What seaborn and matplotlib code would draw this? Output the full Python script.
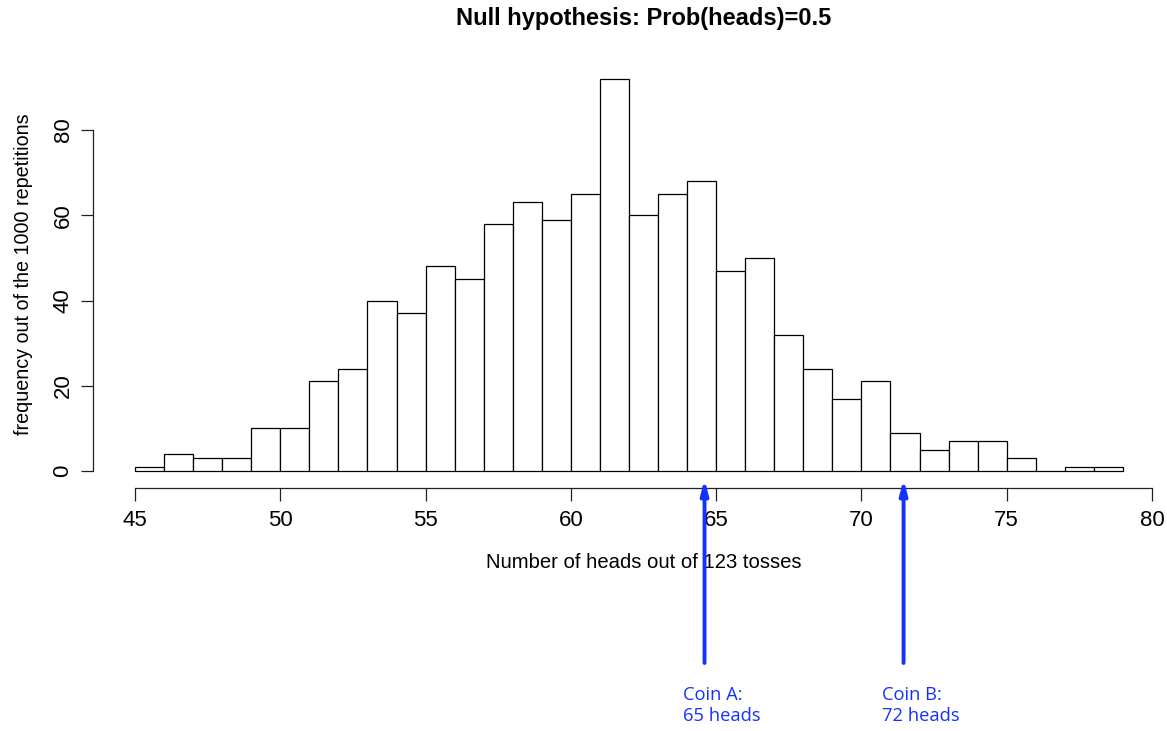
import matplotlib
matplotlib.use("Agg")
import matplotlib.pyplot as plt
import seaborn as sns
import numpy as np
import pandas as pd

# ---- data ----
heads = list(range(45, 79))  # left bin edges, width 1
counts = [1, 4, 3, 3, 10, 10, 21, 24, 40, 37, 48, 45, 58, 63, 59, 65, 92, 60,
          65, 68, 47, 50, 32, 24, 17, 21, 9, 5, 7, 7, 3, 0, 1, 1]
x_ticks = [45, 50, 55, 60, 65, 70, 75, 80]
y_ticks = [0, 20, 40, 60, 80]
coin_labels = ["Coin A:\n65 heads", "Coin B:\n72 heads"]
coin_positions = [64.6, 71.45]

title = "Null hypothesis: Prob(heads)=0.5"
xlabel = "Number of heads out of 123 tosses"
ylabel = "frequency out of the 1000 repetitions"

df = pd.DataFrame({"heads": [h + 0.5 for h in heads], "count": counts})
edges = heads + [heads[-1] + 1]

sns.set_theme(style="white")
plt.rcParams['font.family'] = ['Liberation Sans', 'DejaVu Sans']
plt.rcParams['text.color'] = 'black'
plt.rcParams['axes.labelcolor'] = 'black'
plt.rcParams['xtick.color'] = 'black'
plt.rcParams['ytick.color'] = 'black'

W, H = 1167, 731
fig = plt.figure(figsize=(W / 100, H / 100), dpi=100)
left_px, right_px, top_px, bottom_px = 93, 1160, 60, 488
ax = fig.add_axes([left_px / W, 1 - bottom_px / H,
                   (right_px - left_px) / W, (bottom_px - top_px) / H])

sns.histplot(data=df, x="heads", weights="count", bins=edges, ax=ax,
             color="white", edgecolor="black", linewidth=0.9, alpha=1)

xs = (1152 - 135) / 35.0
ys = (471 - 130) / 80.0
ax.set_xlim(45 - (135 - left_px) / xs, 80 + (right_px - 1152) / xs)
ax.set_ylim(-(bottom_px - 471) / ys, (471 - top_px) / ys)

for s in ["top", "right"]:
    ax.spines[s].set_visible(False)
ax.spines["left"].set_bounds(0, 80)
ax.spines["bottom"].set_bounds(45, 80)
for s in ["left", "bottom"]:
    ax.spines[s].set_color("#222222")
    ax.spines[s].set_linewidth(0.9)

ax.set_xticks(x_ticks)
ax.set_yticks(y_ticks)
ax.set_yticklabels([str(v) for v in y_ticks], rotation=90, va="center")
ax.tick_params(axis="both", which="major", direction="out", length=9,
               width=0.9, color="#222222", labelcolor="black", labelsize=16,
               pad=7, bottom=True, left=True)
ax.tick_params(axis="y", pad=5)

ax.set_xlabel(xlabel, fontsize=14.6, labelpad=18, color="black")
ax.set_ylabel(ylabel, fontsize=14.2, labelpad=14, color="black")
# center the x label on the plotting region (as in the reference)
ax.xaxis.set_label_coords((643.5 - left_px) / (right_px - left_px), -(563 - bottom_px) / (bottom_px - top_px))
ax.xaxis.label.set_va("center")
ax.grid(False)

fig.text((135 + 1152) / 2 / W, 1 - 19 / H, title, ha="center", va="center",
         fontsize=17, fontweight="bold", color="black")

blue = "#1432ff"
y_tip = -(479 - 471) / ys
y_tail = -(663 - 471) / ys
y_text = -(686 - 471) / ys
for pos, lab in zip(coin_positions, coin_labels):
    ax.annotate("", xy=(pos, y_tip), xytext=(pos, y_tail),
                arrowprops=dict(arrowstyle="-|>,head_length=0.7,head_width=0.18",
                                color=blue, lw=2.8, shrinkA=0, shrinkB=0),
                annotation_clip=False)
    ax.text(pos - (22 / xs), y_text, lab, color=blue, ha="left", va="top",
            fontsize=13.2, family=["Open Sans", "DejaVu Sans"], clip_on=False,
            linespacing=1.2)

fig.savefig("out.png", dpi=100)
